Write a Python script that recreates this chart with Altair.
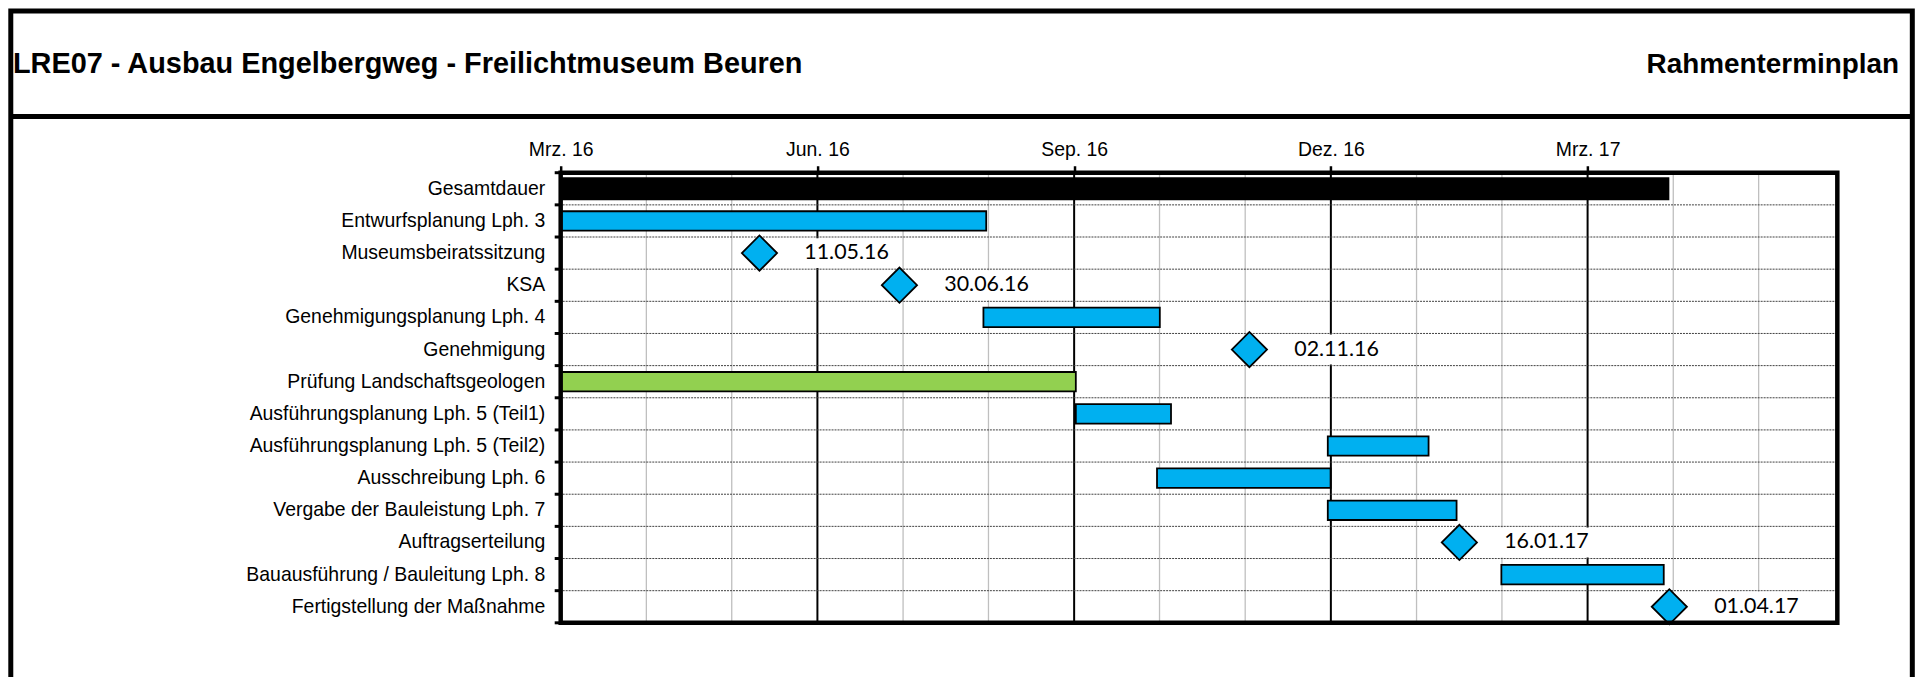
import altair as alt
import pandas as pd

# ---------------- data ----------------
tasks = [
    "Gesamtdauer",
    "Entwurfsplanung Lph. 3",
    "Museumsbeiratssitzung",
    "KSA",
    "Genehmigungsplanung Lph. 4",
    "Genehmigung",
    "Prüfung Landschaftsgeologen",
    "Ausführungsplanung Lph. 5 (Teil1)",
    "Ausführungsplanung Lph. 5 (Teil2)",
    "Ausschreibung Lph. 6",
    "Vergabe der Bauleistung Lph. 7",
    "Auftragserteilung",
    "Bauausführung / Bauleitung Lph. 8",
    "Fertigstellung der Maßnahme",
]

bar_tasks = [
    "Gesamtdauer",
    "Entwurfsplanung Lph. 3",
    "Genehmigungsplanung Lph. 4",
    "Prüfung Landschaftsgeologen",
    "Ausführungsplanung Lph. 5 (Teil1)",
    "Ausführungsplanung Lph. 5 (Teil2)",
    "Ausschreibung Lph. 6",
    "Vergabe der Bauleistung Lph. 7",
    "Bauausführung / Bauleitung Lph. 8",
]
bar_start = ["2016-03-01", "2016-03-01", "2016-07-30", "2016-03-01", "2016-09-01",
             "2016-11-30", "2016-09-30", "2016-11-30", "2017-01-31"]
bar_end = ["2017-04-01", "2016-07-31", "2016-10-01", "2016-09-01", "2016-10-05",
           "2017-01-05", "2016-12-01", "2017-01-15", "2017-03-30"]
bar_kind = ["Gesamt", "Planung", "Planung", "Prüfung", "Planung",
            "Planung", "Planung", "Planung", "Planung"]

milestone_tasks = ["Museumsbeiratssitzung", "KSA", "Genehmigung",
                   "Auftragserteilung", "Fertigstellung der Maßnahme"]
milestone_dates = ["2016-05-11", "2016-06-30", "2016-11-02", "2017-01-16", "2017-04-01"]

axis_start = "2016-03-01"
axis_end = "2017-05-31"
major_days = [0.0, 91.7, 183.4, 275.1, 366.8]
major_labels = ["Mrz. 16", "Jun. 16", "Sep. 16", "Dez. 16", "Mrz. 17"]
minor_days = [30.6, 61.1, 122.3, 152.8, 213.9, 244.5, 305.7, 336.2, 397.4, 427.9]

title_left = "LRE07 - Ausbau Engelbergweg - Freilichtmuseum Beuren"
title_right = "Rahmenterminplan"

kind_domain = ["Gesamt", "Planung", "Prüfung"]
kind_colors = ["#000000", "#00B0F0", "#92D050"]

# ---------------- derived tables ----------------
t0 = pd.Timestamp(axis_start)


def day(s):
    return (pd.Timestamp(s) - t0).days


x_max = day(axis_end)

bars = pd.DataFrame({
    "task": bar_tasks,
    "start": [day(s) for s in bar_start],
    "end": [day(e) for e in bar_end],
    "kind": bar_kind,
})
ms = pd.DataFrame({
    "task": milestone_tasks,
    "day": [day(d) for d in milestone_dates],
    "label": [pd.Timestamp(d).strftime("%d.%m.%y") for d in milestone_dates],
})
rows = pd.DataFrame({"task": tasks})
major = pd.DataFrame({"day": major_days})
minor = pd.DataFrame({"day": minor_days})
one = pd.DataFrame({"k": [0]})

# ---------------- layout ----------------
W, H = 1282, 452
PAD_L, PAD_T = 555, 164
TOTAL_W, TOTAL_H = 1915, 669
FONT = "Liberation Sans"

xs = alt.Scale(domain=[0, x_max], nice=False, zero=False)
ys = alt.Scale(type="band", domain=tasks, paddingInner=0, paddingOuter=0)

# label expression for the top axis
parts = []
for i in range(len(major_days) - 1):
    mid = (major_days[i] + major_days[i + 1]) / 2
    parts.append(f"datum.value < {mid} ? '{major_labels[i]}' : ")
label_expr = "".join(parts) + f"'{major_labels[-1]}'"

x_axis = alt.Axis(orient="top", values=major_days, labelExpr=label_expr, grid=False,
                  domain=False, ticks=True, tickSize=7, tickWidth=2.5, tickColor="black",
                  labelPadding=10, labelBaseline="alphabetic", labelFont=FONT,
                  labelFontSize=19.5, labelColor="black", labelFlush=False,
                  labelOverlap=False, title=None)
y_axis = alt.Axis(orient="left", labelFont=FONT, labelFontSize=19.5, labelColor="black",
                  ticks=False, domain=False, grid=False, labelPadding=16,
                  labelLimit=600, title=None)


def X(field):
    return alt.X(field, scale=xs, axis=x_axis)


def Y(field, **kw):
    return alt.Y(field, scale=ys, axis=y_axis, **kw)


minor_layer = alt.Chart(minor).mark_rule(color="#BFBFBF", strokeWidth=1.3).encode(
    x=X("day:Q"))

major_layer = alt.Chart(major).mark_rule(color="black", strokeWidth=2).encode(
    x=X("day:Q"))

sep_layer = alt.Chart(rows).mark_rule(color="#404040", strokeWidth=1, strokeDash=[2, 1]).encode(
    y=Y("task:N", bandPosition=0))

lt_layer = alt.Chart(rows).mark_rule(color="black", strokeWidth=3).encode(
    y=Y("task:N", bandPosition=0),
    x=alt.value(-6), x2=alt.value(0))
lt_bottom = alt.Chart(one).mark_rule(color="black", strokeWidth=3).encode(
    y=alt.value(H), x=alt.value(-6), x2=alt.value(0))

box_path = "M-1,-0.2727L1,-0.2727L1,0.2727L-1,0.2727Z"
box_layer = alt.Chart(ms).mark_point(shape=box_path, size=110 ** 2, filled=True,
                                     color="white", opacity=1, xOffset=85).encode(
    x=X("day:Q"), y=Y("task:N"))

gesamt_layer = alt.Chart(bars).transform_filter(alt.datum.kind == "Gesamt").mark_bar(
    height=23, color="black").encode(
    x=X("start:Q"), x2="end:Q", y=Y("task:N"))

bar_layer = alt.Chart(bars).transform_filter(alt.datum.kind != "Gesamt").mark_bar(
    height=19.5, stroke="black", strokeWidth=1.8).encode(
    x=X("start:Q"), x2="end:Q", y=Y("task:N"),
    color=alt.Color("kind:N", scale=alt.Scale(domain=kind_domain, range=kind_colors),
                    legend=None))

dia_layer = alt.Chart(ms).mark_point(shape="diamond", filled=True, fill="#00B0F0",
                                     stroke="black", strokeWidth=1.8, size=1250,
                                     opacity=1).encode(
    x=X("day:Q"), y=Y("task:N"))

lbl_layer = alt.Chart(ms).mark_text(align="left", baseline="middle", dx=45, font="Lato",
                                    fontSize=21.5, color="black").encode(
    x=X("day:Q"), y=Y("task:N"), text="label:N")

frame_layer = alt.Chart(one).mark_rect(fillOpacity=0, stroke="black", strokeWidth=4.5).encode(
    x=alt.value(0), x2=alt.value(W), y=alt.value(0), y2=alt.value(H))

# header (coordinates relative to the plot origin)
BORDER_L, BORDER_R = 2.8 - PAD_L, 1912.3 - PAD_L
BORDER_T, BORDER_B = 1.5 - PAD_T, 720 - PAD_T
SEP_Y = 107.5 - PAD_T
TITLE_Y = 64 - PAD_T

border_layer = alt.Chart(one).mark_rect(fillOpacity=0, stroke="black", strokeWidth=5).encode(
    x=alt.value(BORDER_L), x2=alt.value(BORDER_R),
    y=alt.value(BORDER_T), y2=alt.value(BORDER_B))
hsep_layer = alt.Chart(one).mark_rule(color="black", strokeWidth=5).encode(
    x=alt.value(BORDER_L), x2=alt.value(BORDER_R), y=alt.value(SEP_Y))
title_l_layer = alt.Chart(one).mark_text(align="left", baseline="alphabetic", font=FONT,
                                         fontSize=29, fontWeight="bold", color="black").encode(
    x=alt.value(5 - PAD_L), y=alt.value(TITLE_Y), text=alt.value(title_left))
title_r_layer = alt.Chart(one).mark_text(align="right", baseline="alphabetic", font=FONT,
                                         fontSize=28, fontWeight="bold", color="black").encode(
    x=alt.value(1899 - PAD_L), y=alt.value(TITLE_Y), text=alt.value(title_right))

chart = alt.layer(
    minor_layer, major_layer, sep_layer, lt_layer, lt_bottom, box_layer,
    gesamt_layer, bar_layer, dia_layer, lbl_layer, frame_layer,
    border_layer, hsep_layer, title_l_layer, title_r_layer,
).properties(
    width=W, height=H,
    padding={"left": PAD_L, "top": PAD_T,
             "right": TOTAL_W - PAD_L - W, "bottom": TOTAL_H - PAD_T - H},
    autosize=alt.AutoSizeParams(type="none"),
).configure(font=FONT).configure_view(stroke=None)

chart.save("out.html", embed_options={"renderer": "svg", "actions": False})
